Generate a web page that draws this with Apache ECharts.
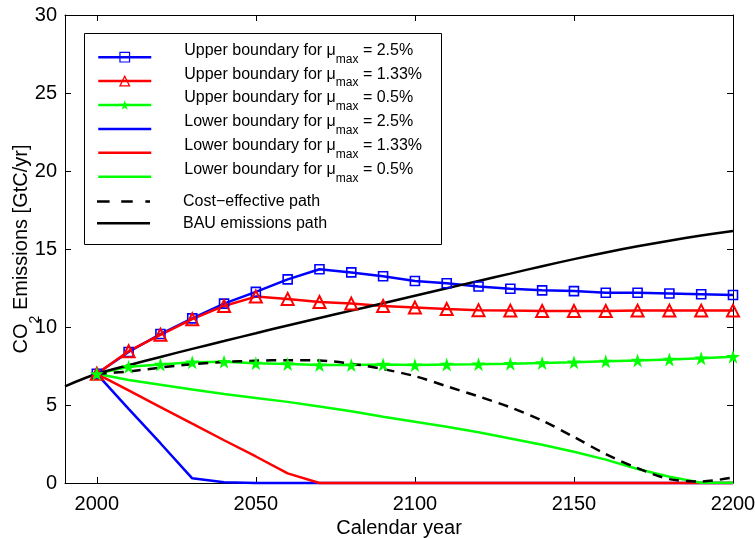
<!DOCTYPE html>
<html>
<head>
<meta charset="utf-8">
<script src="https://cdn.jsdelivr.net/npm/echarts@6/dist/echarts.min.js"></script>
<style>html,body{margin:0;padding:0;background:#fff}#c{width:755px;height:538px}</style>
</head>
<body>
<div id="c"></div>
<script>
const years = [2000,2010,2020,2030,2040,2050,2060,2070,2080,2090,2100,2110,2120,2130,2140,2150,2160,2170,2180,2190,2200];
const bauYears = [1990,2000,2010,2020,2030,2040,2050,2060,2070,2080,2090,2100,2110,2120,2130,2140,2150,2160,2170,2180,2190,2200];
const upper25 = [7.0,8.4,9.55,10.55,11.5,12.25,13.05,13.7,13.5,13.25,12.95,12.8,12.6,12.45,12.35,12.3,12.2,12.2,12.15,12.1,12.05];
const upper133 = [7.0,8.45,9.5,10.5,11.35,11.95,11.8,11.6,11.5,11.35,11.25,11.15,11.08,11.05,11.03,11.03,11.03,11.05,11.05,11.05,11.05];
const upper05 = [7.0,7.45,7.6,7.74,7.78,7.67,7.63,7.56,7.56,7.6,7.56,7.6,7.62,7.65,7.7,7.74,7.8,7.86,7.92,8.0,8.1];
const lower25 = [7.0,4.75,2.55,0.3,0.05,0,0,0,0,0,0,0,0,0,0,0,0,0,0,0,0];
const lower133 = [7.0,5.94,4.87,3.8,2.74,1.7,0.62,0,0,0,0,0,0,0,0,0,0,0,0,0,0];
const lower05 = [7.0,6.6,6.3,6.0,5.7,5.45,5.2,4.9,4.6,4.25,3.93,3.6,3.25,2.85,2.45,2.0,1.5,0.9,0.4,0.02,0.02];
const costEff = [7.0,7.15,7.4,7.62,7.76,7.84,7.87,7.85,7.65,7.3,6.85,6.2,5.55,4.85,4.0,2.95,1.85,0.95,0.25,0.1,0.35];
const bau = [6.2,7.0,7.55,8.08,8.6,9.1,9.6,10.1,10.58,11.05,11.52,12.0,12.48,12.95,13.42,13.9,14.35,14.78,15.17,15.53,15.86,16.15];
const xTicks = [2000,2050,2100,2150,2200];
const names = [
  'Upper boundary for μmax = 2.5%',
  'Upper boundary for μmax = 1.33%',
  'Upper boundary for μmax = 0.5%',
  'Lower boundary for μmax = 2.5%',
  'Lower boundary for μmax = 1.33%',
  'Lower boundary for μmax = 0.5%',
  'Cost−effective path',
  'BAU emissions path'
];

const FONT = 'Liberation Sans, Arial, sans-serif';
const BLUE = '#0000ff', RED = '#ff0000', GREEN = '#00ff00', BLACK = '#000000';
const STAR = 'path://M50,0L61.2,34.5L97.6,34.5L68.2,55.9L79.4,90.5L50,69.1L20.6,90.5L31.8,55.9L2.4,34.5L38.8,34.5Z';
const LINEICON = 'path://M0,0H53V2.5H0Z';
const DASHICON = 'path://M0,0H12.7V2.5H0Z M24.4,0H36V2.5H24.4Z M48.7,0H53.4V2.5H48.7Z';

function pairs(xs, ys) { return xs.map((x, i) => [x, ys[i]]); }

const chart = echarts.init(document.getElementById('c'), null, {renderer: 'canvas'});

function mk(name, xs, ys, color, extra) {
  return Object.assign({
    name: name, type: 'line', data: pairs(xs, ys), clip: false,
    symbol: 'none', showSymbol: false,
    lineStyle: {color: color, width: 2.5},
    itemStyle: {color: color},
    emphasis: {disabled: true}, animation: false
  }, extra || {});
}

const series = [
  mk(names[0], years, upper25, BLUE, {symbol: 'rect', showSymbol: true, symbolSize: 9,
     itemStyle: {color: 'rgba(0,0,0,0)', borderColor: BLUE, borderWidth: 1.6}}),
  mk(names[1], years, upper133, RED, {symbol: 'triangle', showSymbol: true, symbolSize: 12,
     itemStyle: {color: 'rgba(0,0,0,0)', borderColor: RED, borderWidth: 2}}),
  mk(names[2], years, upper05, GREEN, {symbol: STAR, showSymbol: true, symbolSize: 14,
     itemStyle: {color: GREEN}}),
  mk(names[3], years, lower25, BLUE),
  mk(names[4], years, lower133, RED),
  mk(names[5], years, lower05, GREEN),
  mk(names[6], years, costEff, BLACK, {smooth: 0.3, lineStyle: {color: BLACK, width: 2.5, type: [10, 7]}}),
  mk(names[7], bauYears, bau, BLACK, {smooth: 0.3})
];

function richName(n) {
  const m = n.match(/^(.*μ)max(.*)$/);
  return '{a|' + m[1] + '}{s|max}{a|' + m[2] + '}\n{e| }';
}

const option = {
  animation: false,
  backgroundColor: '#ffffff',
  textStyle: {fontFamily: FONT},
  grid: {left: 65, right: 22, top: 15, bottom: 55, show: false, containLabel: false, outerBoundsMode: 'none'},
  xAxis: [{
    type: 'value', min: 1990, max: 2200,
    name: 'Calendar year', nameLocation: 'middle', nameGap: 35, nameMoveOverlap: false,
    nameTextStyle: {fontSize: 20, color: BLACK, fontFamily: FONT},
    axisLine: {show: true, onZero: false, lineStyle: {color: BLACK, width: 1}},
    axisTick: {show: true, inside: true, length: 6, customValues: xTicks, lineStyle: {color: BLACK}},
    axisLabel: {customValues: xTicks, fontSize: 20, color: BLACK, margin: 11, fontFamily: FONT,
      formatter: v => String(v)},
    splitLine: {show: false}
  }, {
    type: 'value', min: 1990, max: 2200, position: 'top',
    axisLine: {show: true, onZero: false, lineStyle: {color: BLACK, width: 1}},
    axisTick: {show: true, inside: true, length: 6, customValues: xTicks, lineStyle: {color: BLACK}},
    axisLabel: {show: false}, splitLine: {show: false}
  }],
  yAxis: [{
    type: 'value', min: 0, max: 30, interval: 5,
    name: '{a|CO}{s|2}{a| Emissions [GtC/yr]}', nameLocation: 'middle', nameGap: 23, nameMoveOverlap: false,
    nameTextStyle: {color: BLACK, fontFamily: FONT, rich: {
      a: {fontSize: 20, color: BLACK, fontFamily: FONT, lineHeight: 31, verticalAlign: 'top'},
      s: {fontSize: 14, color: BLACK, fontFamily: FONT, lineHeight: 31, verticalAlign: 'bottom'}
    }},
    axisLine: {show: true, onZero: false, lineStyle: {color: BLACK, width: 1}},
    axisTick: {show: true, inside: true, length: 6, lineStyle: {color: BLACK}},
    axisLabel: {fontSize: 20, color: BLACK, margin: 8, fontFamily: FONT, formatter: v => String(v)},
    splitLine: {show: false}
  }, {
    type: 'value', min: 0, max: 30, interval: 5, position: 'right',
    axisLine: {show: true, onZero: false, lineStyle: {color: BLACK, width: 1}},
    axisTick: {show: true, inside: true, length: 6, lineStyle: {color: BLACK}},
    axisLabel: {show: false}, splitLine: {show: false}
  }],
  graphic: [{
    type: 'rect', z: 5, silent: true,
    shape: {x: 84.5, y: 33.5, width: 357, height: 211},
    style: {fill: '#ffffff', stroke: BLACK, lineWidth: 1}
  }],
  legend: [{
    orient: 'vertical', left: 97, top: 42.2, padding: 0, z: 10,
    itemWidth: 53, itemHeight: 12, itemGap: -6.1, selectedMode: false,
    data: [
      {name: names[0], itemStyle: {color: 'rgba(0,0,0,0)', borderColor: BLUE, borderWidth: 1.2}, lineStyle: {color: BLUE, width: 2.5}},
      {name: names[1], itemStyle: {color: 'rgba(0,0,0,0)', borderColor: RED, borderWidth: 1.3}, lineStyle: {color: RED, width: 2.5}},
      {name: names[2], itemStyle: {color: GREEN}, lineStyle: {color: GREEN, width: 2.5}},
      {name: names[3], icon: LINEICON},
      {name: names[4], icon: LINEICON},
      {name: names[5], icon: LINEICON}
    ],
    formatter: richName,
    textStyle: {
      color: BLACK, fontFamily: FONT, padding: [0, 0, 0, 28],
      rich: {
        a: {fontSize: 16, color: BLACK, fontFamily: FONT, lineHeight: 23, verticalAlign: 'top'},
        s: {fontSize: 12, color: BLACK, fontFamily: FONT, lineHeight: 23, verticalAlign: 'bottom'},
        e: {fontSize: 7, lineHeight: 7}
      }
    }
  }, {
    orient: 'vertical', left: 97, top: 193.5, padding: 0, z: 10,
    itemWidth: 53, itemHeight: 14, itemGap: 5.7, selectedMode: false,
    data: [
      {name: names[6], icon: DASHICON},
      {name: names[7], icon: LINEICON}
    ],
    textStyle: {color: BLACK, fontFamily: FONT, fontSize: 16, lineHeight: 16, padding: [0, 0, 0, 28]}
  }],
  series: series
};
chart.setOption(option);
</script>
</body>
</html>
